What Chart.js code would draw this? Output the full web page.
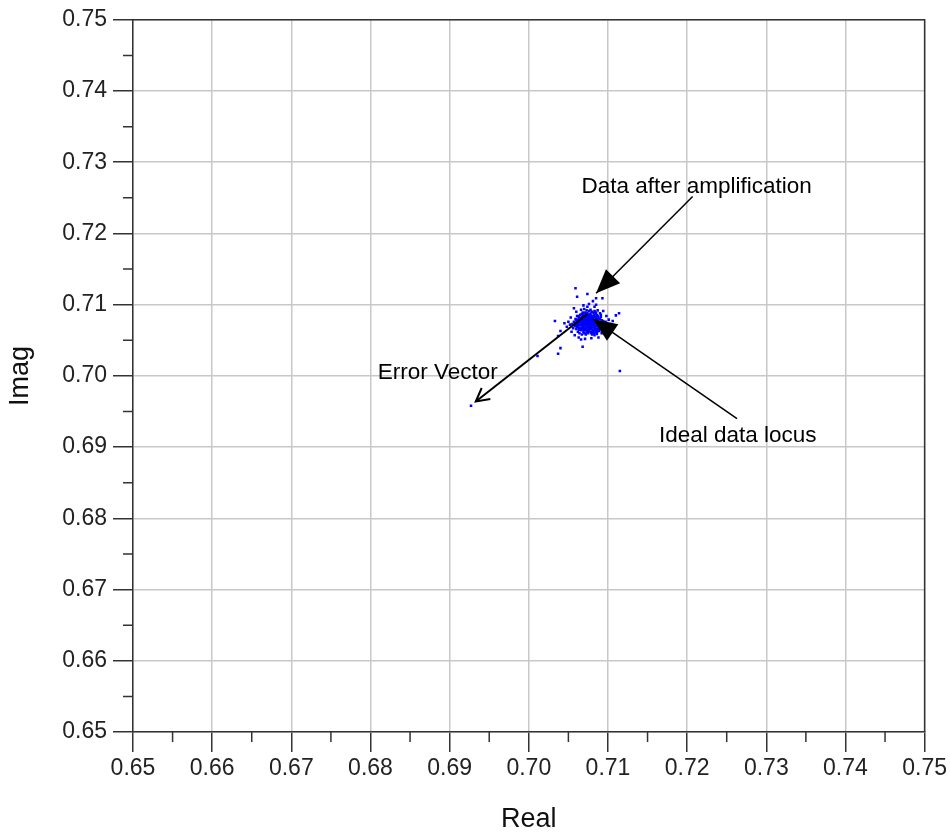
<!DOCTYPE html>
<html>
<head>
<meta charset="utf-8">
<script src="https://cdn.jsdelivr.net/npm/chart.js@4.4.0/dist/chart.umd.min.js"></script>
<style>
  html, body { margin: 0; padding: 0; background: #fff; }
  #wrap { width: 950px; height: 836px; }
</style>
</head>
<body>
<div id="wrap"><canvas id="c" width="950" height="836"></canvas></div>
<script>
// axis ranges / ticks
const realTicks = [0.65, 0.66, 0.67, 0.68, 0.69, 0.70, 0.71, 0.72, 0.73, 0.74, 0.75];
const imagTicks = [0.65, 0.66, 0.67, 0.68, 0.69, 0.70, 0.71, 0.72, 0.73, 0.74, 0.75];
const minorTicks = [0.655, 0.665, 0.675, 0.685, 0.695, 0.705, 0.715, 0.725, 0.735, 0.745];

// constellation samples
const realVals = [
  0.7077,0.7075,0.7079,0.7073,0.7081,0.7076,0.7078,0.7072,0.7080,0.7074,
  0.7070,0.7083,0.7077,0.7076,0.7084,0.7068,0.7071,0.7079,0.7082,0.7073,
  0.7075,0.7078,0.7074,0.7080,0.7076,0.7072,0.7079,0.7077,0.7081,0.7074,
  0.7069,0.7085,0.7078,0.7073,0.7080,0.7076,0.7071,0.7082,0.7075,0.7079,
  0.7067,0.7074,0.7083,0.7070,0.7078,0.7086,0.7072,0.7076,0.7081,0.7069,
  0.7077,0.7075,0.7080,0.7073,0.7078,0.7071,0.7084,0.7066,0.7079,0.7074,
  0.7082,0.7076,0.7070,0.7083,0.7072,0.7078,0.7075,0.7081,0.7068,0.7077,
  0.7065,0.7067,0.7088,0.7087,0.7080,0.7075,0.7070,0.7084,0.7064,0.7089,
  0.7076,0.7073,0.7081,0.7078,0.7068,0.7086,0.7063,0.7091,0.7069,0.7083,
  0.7077,0.7072,0.7062,0.7090,0.7066,0.7087,0.7074,0.7079,0.7071,0.7085,
  0.7060,0.7093,0.7066,0.7075,0.7082,0.7064,0.7088,0.7070,0.7061,0.7092,
  0.7058,0.7095,0.7063,0.7086,0.7076,0.7068,0.7080,0.7072,0.7057,0.7094,
  0.7060,0.7089,0.7065,0.7084,0.7062,0.7078,0.7055,0.7097,0.7067,0.7086,
  0.7059,0.7091,0.7073,0.7083,0.7056,0.7099,0.7070,0.7064,0.7090,0.7061,
  0.7052,0.7101,0.7074,0.7079,0.7054,0.7095,0.7066,0.7087,0.7058,0.7076,
  0.7050,0.7103,0.7069,0.7083,0.7063,0.7092,0.7053,0.7098,0.7071,0.7081,
  0.7048,0.7106,0.7060,0.7094,0.7066,0.7088,0.7045,0.7110,0.7057,0.7085,
  0.7062,0.7091,0.7068,0.7086,0.7064,0.7090,0.7071,0.7082,0.7059,0.7093,
  0.7066,0.7088,0.7073,0.7080,0.7061,0.7092,0.7069,0.7085,0.7063,0.7089,
  0.7067,0.7084,0.7074,0.7079,0.7065,0.7087,0.7070,0.7083,0.7062,0.7094,
  0.7068,0.7086,0.7072,0.7081,0.7064,0.7090,0.7071,0.7085,0.7066,0.7088,
  0.7069,0.7082,0.7075,0.7078,0.7063,0.7091,0.7067,0.7084,0.7060,0.7095,
  0.7073,0.7080,0.7065,0.7087,0.7070,0.7086,0.7061,0.7077,0.7083,0.7068,
  0.7059,0.7061,0.7074,0.7085,0.7093,0.7037,0.7040,0.7037,0.7011,0.7068,
  0.7114,0.7115,0.6927,0.7033,0.7040
];
const imagVals = [
  0.7074,0.7076,0.7072,0.7073,0.7075,0.7070,0.7078,0.7077,0.7069,0.7080,
  0.7074,0.7072,0.7066,0.7082,0.7077,0.7071,0.7068,0.7081,0.7068,0.7079,
  0.7072,0.7075,0.7075,0.7077,0.7074,0.7072,0.7069,0.7079,0.7071,0.7068,
  0.7077,0.7074,0.7071,0.7076,0.7080,0.7077,0.7074,0.7076,0.7068,0.7077,
  0.7074,0.7071,0.7079,0.7079,0.7068,0.7070,0.7066,0.7079,0.7082,0.7070,
  0.7072,0.7078,0.7073,0.7070,0.7082,0.7080,0.7070,0.7076,0.7066,0.7083,
  0.7073,0.7067,0.7071,0.7075,0.7075,0.7073,0.7081,0.7078,0.7079,0.7069,
  0.7072,0.7068,0.7076,0.7072,0.7084,0.7085,0.7083,0.7083,0.7078,0.7070,
  0.7063,0.7064,0.7065,0.7062,0.7065,0.7066,0.7074,0.7075,0.7086,0.7086,
  0.7087,0.7087,0.7070,0.7068,0.7082,0.7080,0.7062,0.7089,0.7064,0.7064,
  0.7073,0.7072,0.7066,0.7060,0.7088,0.7068,0.7082,0.7060,0.7077,0.7078,
  0.7070,0.7074,0.7081,0.7085,0.7091,0.7089,0.7058,0.7058,0.7076,0.7069,
  0.7066,0.7063,0.7086,0.7090,0.7062,0.7093,0.7073,0.7076,0.7058,0.7059,
  0.7080,0.7083,0.7092,0.7057,0.7067,0.7071,0.7094,0.7060,0.7088,0.7084,
  0.7072,0.7079,0.7097,0.7053,0.7062,0.7064,0.7093,0.7092,0.7057,0.7101,
  0.7076,0.7073,0.7099,0.7097,0.7054,0.7060,0.7082,0.7084,0.7052,0.7105,
  0.7069,0.7077,0.7090,0.7091,0.7051,0.7054,0.7074,0.7085,0.7095,0.7100,
  0.7078,0.7071,0.7084,0.7062,0.7065,0.7080,0.7089,0.7060,0.7075,0.7067,
  0.7071,0.7073,0.7086,0.7062,0.7069,0.7075,0.7062,0.7088,0.7084,0.7066,
  0.7079,0.7067,0.7088,0.7060,0.7077,0.7084,0.7066,0.7091,0.7074,0.7077,
  0.7075,0.7078,0.7083,0.7062,0.7072,0.7073,0.7077,0.7081,0.7064,0.7069,
  0.7081,0.7084,0.7064,0.7086,0.7066,0.7086,0.7087,0.7061,0.7079,0.7070,
  0.7061,0.7090,0.7081,0.7063,0.7088,0.7074,0.7072,0.7084,0.7064,0.7067,
  0.7123,0.7111,0.7115,0.7109,0.7109,0.7056,0.7039,0.7031,0.7028,0.7041,
  0.7088,0.7007,0.6958,0.7077,0.7063
];

// annotations: label, text anchor (real, imag), arrow tail, arrow tip
const noteTexts = ['Data after amplification', 'Ideal data locus', 'Error Vector'];
const noteAnchors = [[0.7212, 0.7266], [0.7264, 0.6916], [0.6885, 0.7004]];
const arrowTails = [[0.7207, 0.7252], [0.7263, 0.6940], [0.7074, 0.7087]];
const arrowTips = [[0.7085, 0.7116], [0.7081, 0.7080], [0.6933, 0.6964]];

const FONT = "'Liberation Sans', Arial, Helvetica, sans-serif";
const points = realVals.map((r, i) => ({ x: r, y: imagVals[i] }));

function arrowHead(ctx, x1, y1, x2, y2, len, half, filled) {
  const a = Math.atan2(y2 - y1, x2 - x1);
  const bx = x2 - len * Math.cos(a), by = y2 - len * Math.sin(a);
  const px = -Math.sin(a) * half, py = Math.cos(a) * half;
  ctx.beginPath();
  ctx.moveTo(bx + px, by + py);
  ctx.lineTo(x2, y2);
  ctx.lineTo(bx - px, by - py);
  if (filled) { ctx.closePath(); ctx.fill(); } else { ctx.stroke(); }
}

const decor = {
  id: 'decor',
  afterDraw(chart) {
    const { ctx, chartArea: a } = chart;
    const xs = chart.scales.x, ys = chart.scales.y;
    ctx.save();
    // frame top / right
    ctx.strokeStyle = '#333';
    ctx.lineWidth = 1.5;
    ctx.beginPath();
    ctx.moveTo(a.left, a.top); ctx.lineTo(a.right, a.top); ctx.lineTo(a.right, a.bottom);
    ctx.stroke();
    // minor ticks
    ctx.beginPath();
    minorTicks.forEach(v => {
      const x = xs.getPixelForValue(v);
      ctx.moveTo(x, a.bottom); ctx.lineTo(x, a.bottom + 10);
      const y = ys.getPixelForValue(v);
      ctx.moveTo(a.left, y); ctx.lineTo(a.left - 10, y);
    });
    ctx.stroke();

    // arrows
    ctx.strokeStyle = '#000';
    ctx.fillStyle = '#000';
    arrowTails.forEach((t, i) => {
      const x1 = xs.getPixelForValue(t[0]), y1 = ys.getPixelForValue(t[1]);
      const x2 = xs.getPixelForValue(arrowTips[i][0]), y2 = ys.getPixelForValue(arrowTips[i][1]);
      const open = i === 2;
      ctx.lineWidth = open ? 2 : 1.5;
      ctx.beginPath();
      ctx.moveTo(x1, y1); ctx.lineTo(x2, y2);
      ctx.stroke();
      if (open) arrowHead(ctx, x1, y1, x2, y2, 13, 7, false);
      else arrowHead(ctx, x1, y1, x2, y2, 24, 10, true);
    });

    // texts
    ctx.font = '22.5px ' + FONT;
    ctx.textAlign = 'center';
    ctx.textBaseline = 'middle';
    noteTexts.forEach((s, i) => {
      ctx.fillText(s, xs.getPixelForValue(noteAnchors[i][0]), ys.getPixelForValue(noteAnchors[i][1]));
    });
    ctx.restore();
  }
};

const tickFont = { family: FONT, size: 23 };
const titleFont = { family: FONT, size: 27 };

new Chart(document.getElementById('c'), {
  type: 'scatter',
  data: {
    datasets: [{
      data: points,
      backgroundColor: '#0000ff',
      pointStyle: 'rect',
      pointRadius: 1.8,
      pointBorderWidth: 0,
      borderWidth: 0
    }]
  },
  options: {
    responsive: false,
    animation: false,
    layout: { padding: { top: 18, right: 25, left: 0, bottom: 0 } },
    plugins: { legend: { display: false }, tooltip: { enabled: false } },
    scales: {
      x: {
        type: 'linear',
        min: realTicks[0],
        max: realTicks[realTicks.length - 1],
        afterBuildTicks: s => { s.ticks = realTicks.map(v => ({ value: v })); },
        afterFit: s => { s.height = 104; },
        ticks: { callback: v => v.toFixed(2), font: tickFont, color: '#222', padding: 3, maxRotation: 0, autoSkip: false },
        grid: { color: '#c8c8c8', lineWidth: 1.5, tickColor: '#333', tickLength: 20, tickWidth: 1.5 },
        border: { color: '#333', width: 1.5 },
        title: { display: true, text: 'Real', font: titleFont, color: '#111', padding: 0 }
      },
      y: {
        type: 'linear',
        min: imagTicks[0],
        max: imagTicks[imagTicks.length - 1],
        afterBuildTicks: s => { s.ticks = imagTicks.map(v => ({ value: v })); },
        afterFit: s => { s.width = 133; },
        ticks: { callback: v => v.toFixed(2), font: tickFont, color: '#222', padding: 6, autoSkip: false },
        grid: { color: '#c8c8c8', lineWidth: 1.5, tickColor: '#333', tickLength: 20, tickWidth: 1.5 },
        border: { color: '#333', width: 1.5 },
        title: { display: true, text: 'Imag', font: titleFont, color: '#111', padding: 4 }
      }
    }
  },
  plugins: [decor]
});
</script>
</body>
</html>
